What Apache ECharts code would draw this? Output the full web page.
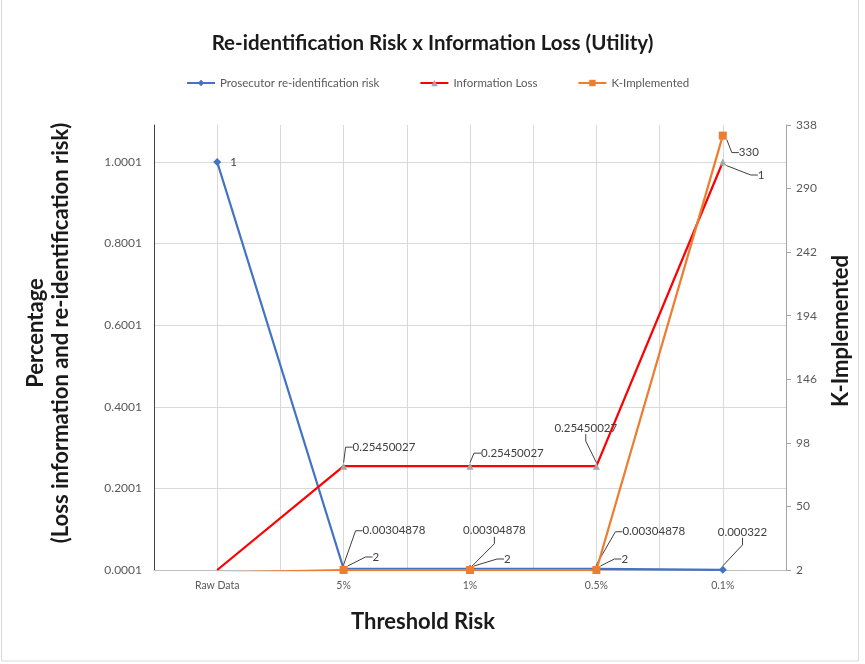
<!DOCTYPE html>
<html>
<head>
<meta charset="utf-8">
<script src="https://cdn.jsdelivr.net/npm/echarts@6/dist/echarts.min.js"></script>
<style>
  html, body { margin: 0; padding: 0; background: #ffffff; }
  #chart { width: 865px; height: 664px; }
</style>
</head>
<body>
<div id="chart"></div>
<script>
// Threshold levels on the category axis
const categories = ['Raw Data', '5%', '1%', '0.5%', '0.1%'];

// Series values
const prosecutorRisk = [1, 0.00304878, 0.00304878, 0.00304878, 0.000322];
const informationLoss = [0, 0.25450027, 0.25450027, 0.25450027, 1];
const kImplemented = [0, 2, 2, 2, 330];

// Left-axis tick labels (percentage scale)
const leftTickLabels = ['0.0001', '0.2001', '0.4001', '0.6001', '0.8001', '1.0001'];

// Label placement relative to each point (dx, dy), null = no label
const riskLabelOffset = [[13, 0], [19, -38], [-7, -38], [26, -37], [-5, -38]];
const lossLabelOffset = [null, [9, -19], [11, -13], [-42, -38], [35, 13]];
const kLabelOffset = [null, [29, -13], [34, -11], [25, -11], [16, 17]];

const FONT = 'Lato';

function placeLabels(offsets) {
  return function (p) {
    const off = offsets[p.dataIndex];
    if (!off) return {};
    const cx = p.rect.x + p.rect.width / 2;
    const cy = p.rect.y + p.rect.height / 2;
    return { x: cx + off[0], y: cy + off[1], align: 'left', verticalAlign: 'middle' };
  };
}

function buildItems(values, offsets, opts) {
  return values.map(function (v, i) {
    const item = { value: v };
    if (!offsets[i]) {
      item.label = { show: false };
      item.labelLine = { show: false };
      if (opts && opts.hideSymbolWithoutLabel) item.symbol = 'none';
    }
    if (opts && opts.noLine && opts.noLine.indexOf(i) >= 0) {
      item.labelLine = { show: false };
    }
    return item;
  });
}

const dataLabel = {
  show: true,
  color: '#404040',
  fontFamily: FONT,
  fontSize: 11.5,
  formatter: function (p) { return String(p.value); }
};
const leader = {
  show: true,
  length2: 7,
  lineStyle: { color: '#404040', width: 1 }
};

const titleFont = 'bold 22px Lato';

const chart = echarts.init(document.getElementById('chart'), null, { renderer: 'canvas' });

chart.setOption({
  backgroundColor: '#ffffff',
  animation: false,
  title: {
    text: 'Re-identification Risk x Information Loss (Utility)',
    left: 'center',
    top: 28,
    textStyle: { fontFamily: FONT, fontSize: 20.5, fontWeight: 'bold', color: '#1a1a1a' }
  },
  legend: {
    top: 77,
    left: 186,
    padding: 0,
    itemWidth: 28,
    itemHeight: 8,
    itemGap: 40,
    textStyle: { fontFamily: FONT, fontSize: 11.5, color: '#595959' },
    data: ['Prosecutor re-identification risk', 'Information Loss', 'K-Implemented']
  },
  grid: { left: 154, right: 79, top: 125, bottom: 94, containLabel: false },
  xAxis: [
    {
      type: 'category',
      data: categories,
      boundaryGap: true,
      axisLine: { lineStyle: { color: '#bfbfbf', width: 1 } },
      axisTick: { show: false },
      axisLabel: { color: '#595959', fontFamily: FONT, fontSize: 10.5, margin: 10 },
      splitLine: { show: false }
    },
    {
      // half-category spacing for vertical gridlines
      type: 'value',
      min: 0, max: 10, interval: 1,
      show: true,
      axisLine: { show: false },
      axisTick: { show: false },
      axisLabel: { show: false },
      splitLine: { show: true, lineStyle: { color: '#d9d9d9', width: 1 } }
    }
  ],
  yAxis: [
    {
      type: 'value',
      min: 0,
      max: 445 / 408,
      interval: 0.2,
      axisLine: { show: true, lineStyle: { color: '#404040', width: 1 } },
      axisTick: { show: false },
      axisLabel: {
        color: '#595959', fontFamily: FONT, fontSize: 12, margin: 12,
        showMaxLabel: false,
        formatter: function (v, i) { return leftTickLabels[i] !== undefined ? leftTickLabels[i] : ''; }
      },
      splitLine: { show: true, showMaxLine: false, lineStyle: { color: '#d9d9d9', width: 1 } }
    },
    {
      type: 'value',
      min: 2,
      max: 338,
      interval: 48,
      position: 'right',
      axisLine: { show: true, lineStyle: { color: '#a6a6a6', width: 1 } },
      axisTick: { show: true, length: 5, lineStyle: { color: '#a6a6a6' } },
      axisLabel: { color: '#595959', fontFamily: FONT, fontSize: 12, margin: 10 },
      splitLine: { show: false }
    }
  ],
  series: [
    {
      name: 'Prosecutor re-identification risk',
      type: 'line',
      yAxisIndex: 0,
      data: buildItems(prosecutorRisk, riskLabelOffset, { noLine: [0] }),
      symbol: 'diamond',
      symbolSize: 8,
      itemStyle: { color: '#4472C4' },
      lineStyle: { color: '#4472C4', width: 2.25 },
      label: dataLabel,
      labelLine: leader,
      labelLayout: placeLabels(riskLabelOffset),
      z: 2
    },
    {
      name: 'Information Loss',
      type: 'line',
      yAxisIndex: 0,
      data: buildItems(informationLoss, lossLabelOffset, { hideSymbolWithoutLabel: true }),
      symbol: 'triangle',
      symbolSize: 7,
      itemStyle: { color: '#A5A5A5' },
      lineStyle: { color: '#FF0000', width: 2.25 },
      label: dataLabel,
      labelLine: leader,
      labelLayout: placeLabels(lossLabelOffset),
      z: 3
    },
    {
      name: 'K-Implemented',
      type: 'line',
      yAxisIndex: 1,
      data: buildItems(kImplemented, kLabelOffset, { hideSymbolWithoutLabel: true }),
      symbol: 'rect',
      symbolSize: 8,
      itemStyle: { color: '#ED7D31' },
      lineStyle: { color: '#ED7D31', width: 2.25 },
      label: dataLabel,
      labelLine: leader,
      labelLayout: placeLabels(kLabelOffset),
      clip: true,
      z: 4
    }
  ],
  graphic: [
    {
      type: 'rect',
      shape: { x: 1.5, y: -2, width: 857, height: 663 },
      style: { fill: 'none', stroke: '#d9d9d9', lineWidth: 1 },
      silent: true
    },
    {
      type: 'text', x: 36, y: 333, rotation: Math.PI / 2,
      style: { text: 'Percentage', font: titleFont, fill: '#1a1a1a', align: 'center', verticalAlign: 'middle' }
    },
    {
      type: 'text', x: 61, y: 333, rotation: Math.PI / 2,
      style: { text: '(Loss information and re-identification risk)', font: titleFont, fill: '#1a1a1a', align: 'center', verticalAlign: 'middle' }
    },
    {
      type: 'text', x: 423, y: 622,
      style: { text: 'Threshold Risk', font: titleFont, fill: '#1a1a1a', align: 'center', verticalAlign: 'middle' }
    },
    {
      type: 'text', x: 841, y: 331, rotation: Math.PI / 2,
      style: { text: 'K-Implemented', font: titleFont, fill: '#1a1a1a', align: 'center', verticalAlign: 'middle' }
    }
  ]
});
</script>
</body>
</html>
